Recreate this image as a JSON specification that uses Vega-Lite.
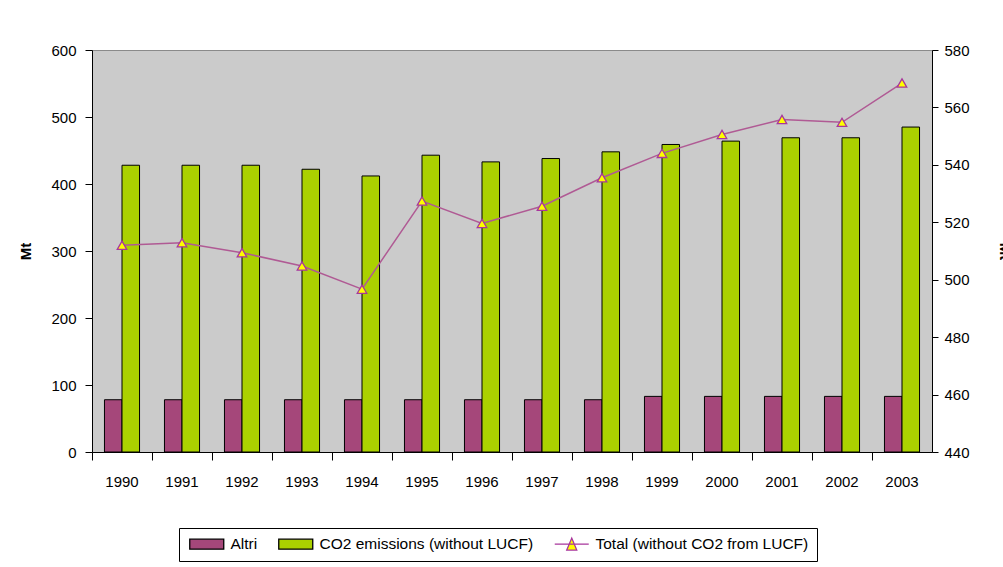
{
  "$schema": "https://vega.github.io/schema/vega-lite/v6.json",
  "width": 840,
  "height": 402,
  "padding": {"left": 18, "top": 43, "right": 0, "bottom": 0},
  "background": "white",
  "config": {
    "font": "Liberation Sans",
    "view": {"fill": "#cbcbcb", "stroke": "#8a8a8a", "strokeWidth": 1},
    "axis": {"labelFont": "Liberation Sans", "labelFontSize": 15, "labelColor": "#000", "domainColor": "#000", "tickColor": "#000", "grid": false, "titleFont": "Liberation Sans", "titleFontSize": 15, "titleFontWeight": "bold", "titleColor": "#000"}
  },
  "datasets": {
    "bars": [
      {"year": "1990", "series": "Altri", "value": 78},
      {"year": "1991", "series": "Altri", "value": 78},
      {"year": "1992", "series": "Altri", "value": 78},
      {"year": "1993", "series": "Altri", "value": 78},
      {"year": "1994", "series": "Altri", "value": 78},
      {"year": "1995", "series": "Altri", "value": 78},
      {"year": "1996", "series": "Altri", "value": 78},
      {"year": "1997", "series": "Altri", "value": 78},
      {"year": "1998", "series": "Altri", "value": 78},
      {"year": "1999", "series": "Altri", "value": 83},
      {"year": "2000", "series": "Altri", "value": 83},
      {"year": "2001", "series": "Altri", "value": 83},
      {"year": "2002", "series": "Altri", "value": 83},
      {"year": "2003", "series": "Altri", "value": 83},
      {"year": "1990", "series": "CO2 emissions (without LUCF)", "value": 428},
      {"year": "1991", "series": "CO2 emissions (without LUCF)", "value": 428},
      {"year": "1992", "series": "CO2 emissions (without LUCF)", "value": 428},
      {"year": "1993", "series": "CO2 emissions (without LUCF)", "value": 422},
      {"year": "1994", "series": "CO2 emissions (without LUCF)", "value": 412},
      {"year": "1995", "series": "CO2 emissions (without LUCF)", "value": 443},
      {"year": "1996", "series": "CO2 emissions (without LUCF)", "value": 433},
      {"year": "1997", "series": "CO2 emissions (without LUCF)", "value": 438},
      {"year": "1998", "series": "CO2 emissions (without LUCF)", "value": 448},
      {"year": "1999", "series": "CO2 emissions (without LUCF)", "value": 459},
      {"year": "2000", "series": "CO2 emissions (without LUCF)", "value": 464},
      {"year": "2001", "series": "CO2 emissions (without LUCF)", "value": 469},
      {"year": "2002", "series": "CO2 emissions (without LUCF)", "value": 469},
      {"year": "2003", "series": "CO2 emissions (without LUCF)", "value": 485}
    ],
    "total": [
      {"year": "1990", "series": "Total (without CO2 from LUCF)", "total": 512},
      {"year": "1991", "series": "Total (without CO2 from LUCF)", "total": 512.9},
      {"year": "1992", "series": "Total (without CO2 from LUCF)", "total": 509.4},
      {"year": "1993", "series": "Total (without CO2 from LUCF)", "total": 504.8},
      {"year": "1994", "series": "Total (without CO2 from LUCF)", "total": 496.7},
      {"year": "1995", "series": "Total (without CO2 from LUCF)", "total": 527.4},
      {"year": "1996", "series": "Total (without CO2 from LUCF)", "total": 519.6},
      {"year": "1997", "series": "Total (without CO2 from LUCF)", "total": 525.6},
      {"year": "1998", "series": "Total (without CO2 from LUCF)", "total": 535.5},
      {"year": "1999", "series": "Total (without CO2 from LUCF)", "total": 544},
      {"year": "2000", "series": "Total (without CO2 from LUCF)", "total": 550.6},
      {"year": "2001", "series": "Total (without CO2 from LUCF)", "total": 555.8},
      {"year": "2002", "series": "Total (without CO2 from LUCF)", "total": 554.8},
      {"year": "2003", "series": "Total (without CO2 from LUCF)", "total": 568.5}
    ]
  },
  "encoding": {
    "x": {
      "field": "year", "type": "ordinal",
      "scale": {"paddingInner": 0, "paddingOuter": 0},
      "axis": {"title": null, "labelAngle": 0, "bandPosition": 0, "tickSize": 8, "labelPadding": 14, "domainColor": "#000"}
    },
    "color": {
      "field": "series", "type": "nominal",
      "scale": {"domain": ["Altri", "CO2 emissions (without LUCF)", "Total (without CO2 from LUCF)"], "range": ["#a5477a", "#abd100", "#ffff00"]},
      "legend": {
        "title": null,
        "orient": "none",
        "legendX": 87,
        "legendY": 478,
        "direction": "horizontal",
        "strokeColor": "#000",
        "fillColor": "#fff",
        "padding": 8,
        "columnPadding": 18,
        "symbolSize": 100,
        "symbolType": "M-1,-1H5.8V1H-1Z",
        "symbolStrokeColor": "#000",
        "symbolStrokeWidth": 1.3,
        "labelFont": "Liberation Sans",
        "labelFontSize": 15.5,
        "labelColor": "#000",
        "labelOffset": 28,
        "labelLimit": 400,
        "encode": {
          "symbols": {
            "update": {
              "shape": [
                {"test": "datum.value === 'Total (without CO2 from LUCF)'", "value": "M-1,0H5.8M1.4,1.2L2.4,-1.2L3.4,1.2Z"},
                {"value": "M-1,-1H5.8V1H-1Z"}
              ],
              "stroke": [
                {"test": "datum.value === 'Total (without CO2 from LUCF)'", "value": "#a8369c"},
                {"value": "#000"}
              ],
              "strokeWidth": {"value": 1.3},
              "opacity": {"value": 1}
            }
          }
        }
      }
    }
  },
  "layer": [
    {
      "data": {"name": "bars"},
      "mark": {"type": "bar", "stroke": "#000", "strokeWidth": 1},
      "encoding": {
        "xOffset": {"field": "series", "type": "nominal", "scale": {"domain": ["Altri", "CO2 emissions (without LUCF)"], "paddingInner": 0, "paddingOuter": 0.71}},
        "y": {
          "field": "value", "type": "quantitative",
          "scale": {"domain": [0, 600], "nice": false},
          "axis": {"title": "Mt", "values": [0, 100, 200, 300, 400, 500, 600], "tickSize": 7, "labelPadding": 9, "titlePadding": 17}
        }
      }
    },
    {
      "data": {"name": "total"},
      "mark": {"type": "line", "strokeWidth": 1.5},
      "encoding": {
        "color": {"value": "#b05a94"},
        "y": {
          "field": "total", "type": "quantitative",
          "scale": {"domain": [440, 580], "nice": false, "zero": false},
          "axis": {"title": "Mt", "orient": "right", "titleAngle": 90, "values": [440, 460, 480, 500, 520, 540, 560, 580], "tickSize": 6, "labelPadding": 6, "titlePadding": 27}
        }
      }
    },
    {
      "data": {"name": "total"},
      "mark": {"type": "point", "shape": "triangle-up", "filled": true, "size": 90, "stroke": "#a8369c", "strokeWidth": 1.3, "opacity": 1},
      "encoding": {
        "y": {"field": "total", "type": "quantitative", "scale": {"domain": [440, 580], "nice": false, "zero": false}, "axis": null}
      }
    }
  ],
  "resolve": {"scale": {"y": "independent"}}
}
